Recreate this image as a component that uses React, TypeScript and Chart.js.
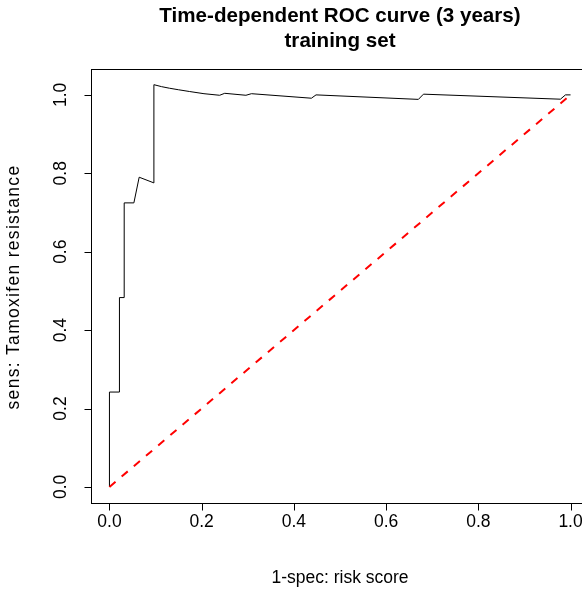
import React, { useEffect, useRef } from "react";
import { Chart, registerables } from "chart.js";

Chart.register(...registerables);

// ROC curve (1 - specificity vs sensitivity)
const fprValues = [
  0, 0, 0.0217, 0.0217, 0.032, 0.032, 0.053, 0.0645, 0.0964, 0.0964,
  0.113, 0.13, 0.15, 0.174, 0.205, 0.239, 0.25, 0.296, 0.308, 0.438,
  0.448, 0.67, 0.681, 0.978, 0.989, 1.0,
];
const tprValues = [
  0, 0.242, 0.242, 0.483, 0.483, 0.7245, 0.7245, 0.79, 0.7755, 1.026,
  1.021, 1.017, 1.013, 1.0085, 1.003, 0.999, 1.004, 0.999, 1.003, 0.9915,
  1.0, 0.9885, 1.0018, 0.989, 1.0, 1.0,
];

// reference diagonal
const diagX = [0, 1];
const diagY = [0, 1];

const xTicks = [0, 0.2, 0.4, 0.6, 0.8, 1.0];
const xTickLabels = ["0.0", "0.2", "0.4", "0.6", "0.8", "1.0"];
const yTicks = [0, 0.2, 0.4, 0.6, 0.8, 1.0];
const yTickLabels = ["0.0", "0.2", "0.4", "0.6", "0.8", "1.0"];

const titleLines = ["Time-dependent ROC curve (3 years)", "training set"];
const xTitle = "1-spec: risk score";
const yTitle = "sens: Tamoxifen resistance";

const FONT = "'Liberation Sans', Arial, Helvetica, sans-serif";

const rAxesPlugin = {
  id: "rAxes",
  afterDraw(chart: any) {
    const { ctx, chartArea: a, scales } = chart;
    const xs = scales.x;
    const ys = scales.y;
    ctx.save();
    ctx.strokeStyle = "#000";
    ctx.lineWidth = 1;
    ctx.strokeRect(
      Math.round(a.left) + 0.5,
      Math.round(a.top) + 0.5,
      Math.round(a.right - a.left),
      Math.round(a.bottom - a.top)
    );
    const bottom = Math.round(a.bottom) + 0.5;
    const left = Math.round(a.left) + 0.5;
    ctx.beginPath();
    xTicks.forEach((v) => {
      const px = Math.round(xs.getPixelForValue(v)) + 0.5;
      ctx.moveTo(px, bottom);
      ctx.lineTo(px, bottom + 7);
    });
    yTicks.forEach((v) => {
      const py = Math.round(ys.getPixelForValue(v)) + 0.5;
      ctx.moveTo(left, py);
      ctx.lineTo(left - 7, py);
    });
    ctx.stroke();

    ctx.fillStyle = "#000";
    ctx.font = `17.5px ${FONT}`;
    ctx.textAlign = "center";
    ctx.textBaseline = "middle";
    xTicks.forEach((v, i) => {
      ctx.fillText(xTickLabels[i], xs.getPixelForValue(v), 522);
    });
    yTicks.forEach((v, i) => {
      ctx.save();
      ctx.translate(61, ys.getPixelForValue(v));
      ctx.rotate(-Math.PI / 2);
      ctx.fillText(yTickLabels[i], 0, 0);
      ctx.restore();
    });
    const cx = (a.left + a.right) / 2;
    const cy = (a.top + a.bottom) / 2;
    ctx.fillText(xTitle, cx, 578);
    ctx.save();
    ctx.translate(14, cy + 1);
    ctx.rotate(-Math.PI / 2);
    (ctx as any).letterSpacing = "1.3px";
    ctx.fillText(yTitle, 0, 0);
    ctx.restore();

    ctx.font = `bold 20.6px ${FONT}`;
    ctx.textBaseline = "alphabetic";
    ctx.fillText(titleLines[0], cx, 22);
    ctx.fillText(titleLines[1], cx, 47);
    ctx.restore();
  },
};

export default function App() {
  const canvasRef = useRef<HTMLCanvasElement | null>(null);

  useEffect(() => {
    const canvas = canvasRef.current;
    if (!canvas) return;
    const chart = new Chart(canvas, {
      type: "scatter",
      data: {
        datasets: [
          {
            label: "diagonal",
            data: diagX.map((x, i) => ({ x, y: diagY[i] })),
            showLine: true,
            borderColor: "#ff0000",
            borderWidth: 2,
            borderDash: [8, 8],
            pointRadius: 0,
            tension: 0,
          },
          {
            label: "ROC",
            data: fprValues.map((x, i) => ({ x, y: tprValues[i] })),
            showLine: true,
            borderColor: "#000000",
            borderWidth: 1,
            pointRadius: 0,
            tension: 0,
          },
        ],
      },
      options: {
        animation: false,
        responsive: false,
        maintainAspectRatio: false,
        devicePixelRatio: 1,
        layout: { padding: { left: 91, right: 11, top: 69, bottom: 86 } },
        plugins: {
          legend: { display: false },
          tooltip: { enabled: false },
          title: { display: false },
        },
        scales: {
          x: { type: "linear", min: -0.04, max: 1.04, display: false },
          y: { type: "linear", min: -0.041, max: 1.066, display: false },
        },
      },
      plugins: [rAxesPlugin],
    });
    return () => chart.destroy();
  }, []);

  return (
    <div
      style={{
        position: "fixed",
        left: 0,
        top: 0,
        width: 600,
        height: 589,
        background: "#fff",
        overflow: "hidden",
      }}
    >
      <canvas ref={canvasRef} width={600} height={589} style={{ width: 600, height: 589 }} />
    </div>
  );
}
